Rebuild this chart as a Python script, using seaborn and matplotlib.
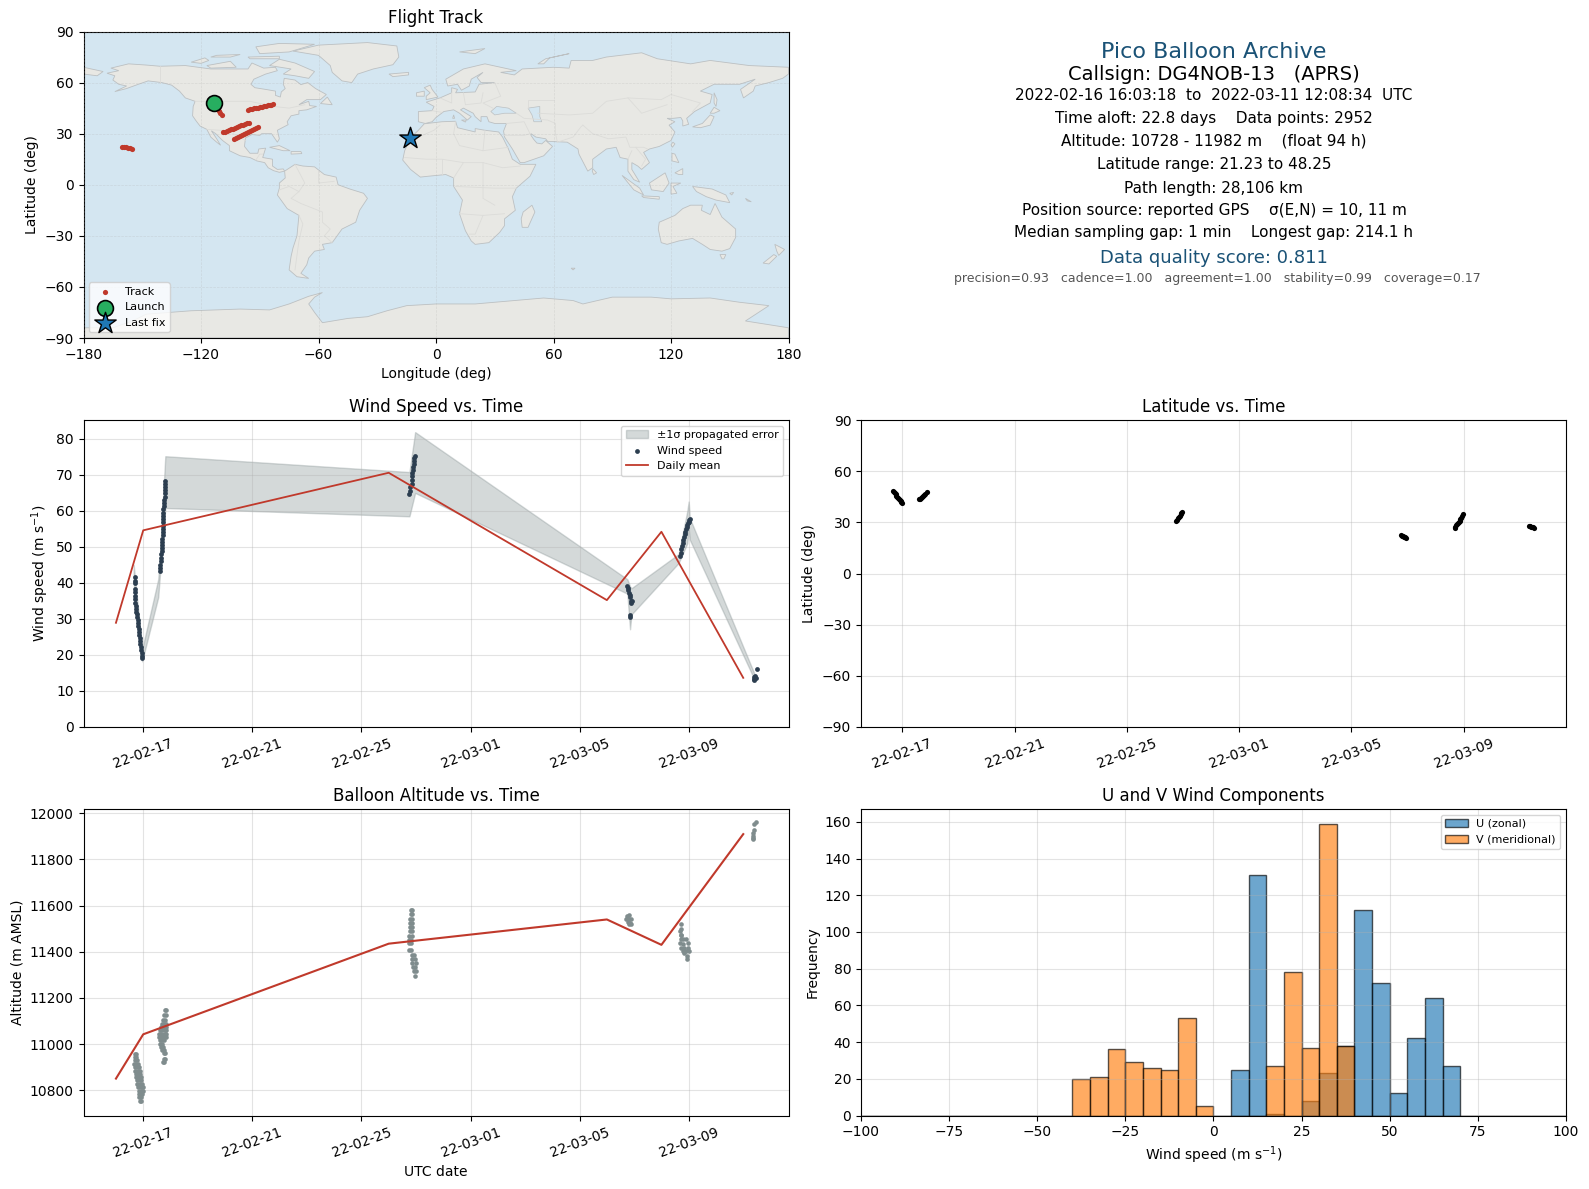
import numpy as np
import pandas as pd
import matplotlib
matplotlib.use("Agg")
import matplotlib.pyplot as plt
import matplotlib.dates as mdates
import seaborn as sns

# ----------- Map outlines (lon, lat) -----------
north_america = [(-168,65.5),(-162,67),(-166,68.5),(-157,71),(-148,70.3),(-141,69.6),(-128,70),(-115,68),(-108,68),(-96,68),(-94,71.5),(-88,68.5),(-82,69),(-81,67),(-87,65),(-93,62),(-94.5,59),(-92.5,57),(-87,56),(-82,55),(-82,52.5),(-79.5,51.5),(-79,54.5),(-77,56.5),(-78,59),(-77.5,62.5),(-72,61.5),(-69,58.8),(-65.5,60),(-61.5,56.5),(-56,53),(-59,50),(-66,50),(-70,47),(-65,49),(-64.5,46.5),(-61,46),(-66,44),(-70,43.5),(-70,41.5),(-74,40.5),(-76,37),(-75.5,35.3),(-81,32),(-80,27),(-81,25),(-82.8,28),(-84,30),(-89,30),(-90,29),(-94,29.5),(-97.3,27.5),(-97.8,22.5),(-95,18.5),(-91,18.5),(-90.5,21),(-87,21.5),(-88.5,16),(-83.5,15),(-83.5,11),(-81,9),(-78,9.3),(-77.3,8),(-80,7.3),(-83,8.3),(-85.7,10),(-87.5,13),(-91.5,14),(-95,16),(-100,17),(-105.5,20),(-105.5,23),(-109,26),(-112.5,30),(-114.7,31.7),(-112,27),(-110,23.2),(-112,25),(-115,28),(-117,32.5),(-120.5,34.5),(-122.5,37.5),(-124.3,40.5),(-124,46),(-123,49),(-128,51),(-131,55),(-135,58.5),(-140,60),(-147,61),(-152,59),(-158,56.5),(-164,54.7),(-158,58),(-162,59),(-165,61.5),(-164,64)]
greenland = [(-73,78.5),(-60,82),(-35,83.5),(-20,81.5),(-19,75),(-22,70.5),(-32,68),(-40,65),(-43,60),(-48,61),(-53,66),(-54,70),(-60,76)]
south_america = [(-77.3,8),(-72,12),(-68,11),(-62,10.5),(-57,6),(-51,4.5),(-50,0),(-44,-2.5),(-37,-5),(-35,-8),(-39,-15),(-41,-22),(-48,-26),(-53,-34),(-58,-35),(-57,-38),(-62,-39),(-65,-43),(-66,-47),(-69,-52),(-65,-55),(-71,-54),(-75,-50),(-74,-42),(-73,-37),(-71,-30),(-70,-18),(-76,-14),(-81,-6),(-80,-2),(-80,1),(-77,4)]
africa = [(-6,35.8),(3,37),(10,37.3),(11,33.5),(20,31),(20,33),(25,32),(32,31),(34,28),(37,21),(39,15),(43,12),(51,12),(48,5),(41,-2),(39,-7),(40.5,-15),(35,-20),(35,-24),(32.5,-28),(27,-34),(20,-35),(18,-33),(15,-27),(12,-17),(13.5,-9),(9,-1),(9,4),(5,6),(-4,5),(-8,4.5),(-13,9),(-17,14.5),(-16,20),(-13,27.5),(-9,32)]
eurasia = [(-9,37),(-9,43),(-2,43.5),(-1,46),(-5,48.5),(2,51),(8,54),(8,57),(11,56),(10,54),(20,54.5),(22,59),(30,60),(23,60),(21,63),(24,66),(18,62),(17,58),(13,55.5),(11,59),(6,58),(5,62),(14,68),(25,71),(41,67),(33,66),(40,64.5),(44,68),(60,69),(68,68.5),(69,73),(80,73),(87,75),(105,77.5),(113,74),(130,71),(140,73),(160,70),(180,69),(180,65),(177,62.5),(170,60),(163,58),(162,55),(157,51),(155.5,56),(163,62),(155,59),(142,59),(135,55),(141,53),(140,48),(132,43),(128,39),(129,35.5),(126,34.5),(126,37.5),(125,39.5),(121,39),(118,39),(122,37),(119,35),(122,31),(120,26),(114,22.5),(109,21),(106,19),(109,13),(105,9),(103,11),(100,13),(100,9),(104,1.5),(101,3),(98,8),(98,15),(94,16),(92,22),(87,21),(80,15),(80,10),(77.5,8),(73,18),(72.5,21),(67,25),(57,25.5),(56,27),(51,28),(48.5,30),(48.5,29),(50,26.5),(51.5,24.5),(54,24),(56,26),(59.5,22.5),(55,17),(45,13),(43,13),(39,21),(35,28),(34.5,31.5),(36,36),(30,36),(27,37),(26,40),(23,40),(23,37),(20,40),(19,42),(14,45),(12.5,44),(18,40),(16,38),(12,42),(9,44),(4,43),(0,39.5),(-2,37),(-5.5,36)]
australia = [(114,-22),(122,-18),(126,-14),(130,-12),(136,-12),(135.5,-15),(140,-17.5),(142.5,-11),(146,-19),(153,-26),(153,-31),(150,-37.5),(146,-39),(140,-38),(136,-35),(131,-31.5),(124,-33),(118,-35),(115,-34),(113.5,-26)]
antarctica = [(-180,-84),(-165,-84),(-155,-80),(-148,-76),(-125,-74),(-100,-73),(-85,-73.5),(-75,-70),(-65,-65.5),(-58,-63.3),(-62,-66),(-65,-70),(-62,-75),(-58,-81),(-45,-78.5),(-35,-77.5),(-25,-74),(-15,-71),(0,-70),(20,-70),(40,-68),(55,-66.5),(70,-68),(75,-70),(90,-66),(110,-66),(120,-67),(140,-66.5),(155,-69),(170,-71),(158,-80),(180,-84),(180,-90),(-180,-90)]
islands = [
    [(-180,69),(-170,66.5),(-173,64),(-180,65)],
    [(-80,73.7),(-72,71.5),(-62,66.5),(-65,62.5),(-72,64),(-78,65),(-74,68),(-85,70)],
    [(-117,70),(-105,72.5),(-102,69),(-115,68.5)],
    [(-90,77),(-75,78),(-62,82.5),(-80,83),(-92,81)],
    [(-125,72),(-118,74.5),(-116,73),(-120,71.3)],
    [(-96,75),(-80,75.5),(-80,74),(-95,74)],
    [(-112,76),(-100,76.5),(-105,75),(-115,75)],
    [(-59,47.7),(-53,47),(-55.5,51.5)],
    [(-85,22),(-80,23),(-74.5,20),(-78,20)],
    [(-74,19.5),(-69,19.5),(-68.5,18.3),(-74,18)],
    [(-5,50),(1,51.5),(-2,56),(-3,58.5),(-6,57),(-3,54),(-5,52)],
    [(-10,52),(-6,52),(-6,55),(-10,54)],
    [(-24,65),(-14,66),(-14,64.5),(-22,63.5)],
    [(12,78),(25,80),(20,77)],
    [(52,71),(56,74),(68,77),(58,74.5),(55,71)],
    [(131,34),(136,36),(140,41),(142,40),(140,35),(135,33.5)],
    [(140,42),(142,45.5),(145,43.5),(142,42)],
    [(142,54),(143.5,50),(143,46),(142,48)],
    [(121,25),(122,24),(120.7,22),(120,23.5)],
    [(120.5,18.5),(122,18),(124,13),(120.5,14)],
    [(122,7),(126,9.5),(126,6),(124,6)],
    [(95,5.5),(104,-2),(106,-6),(101,-3)],
    [(105,-6.5),(114,-7),(114,-8.5),(106,-7.5)],
    [(109,1),(117,7),(119,1),(116,-4),(110,-3)],
    [(120,1),(125,1),(121,-1),(123,-5),(120,-5.5)],
    [(131,-1),(141,-2.5),(148,-6),(150,-10.5),(143,-9),(138,-7),(133,-4)],
    [(80,9.5),(82,7),(80.5,6),(79.8,8)],
    [(49,-12),(50.5,-16),(47,-25),(44,-25),(43.5,-20),(44.5,-16)],
    [(145,-41),(148,-41),(147,-43.5),(146,-43.5)],
    [(173,-35),(178,-38),(175,-41.5),(174,-39)],
    [(172.5,-41),(174,-42),(170,-46.5),(167,-46)],
    [(69,-49),(71,-49),(70,-50)],
    [(9,41),(9.5,39),(8.5,39)],
    [(13,38),(15.5,38),(15,36.8)],
    [(150,-5),(152,-4.5),(151,-6)],
    [(158,-8),(161,-10),(159,-9.5)],
]
inland_water = [
    [(28,43),(31,46),(37,45),(41,42),(35,42),(30,41)],
    [(47,45),(53,46),(53,40),(54,37),(50,37),(49,41)],
]
borders = [
    [(-123,49),(-95,49),(-83,46),(-75,45),(-67,47)], [(-141,60),(-141,69.6)],
    [(-117,32.5),(-106,31.7),(-97.3,26)], [(-92,14.5),(-90,18),(-88.5,18)],
    [(-72,12),(-67,1),(-70,-4),(-74,-8),(-69,-11),(-58,-16),(-58,-22),(-54,-26),(-57,-30),(-53,-34)],
    [(-80,-3),(-75,-1),(-70,-4)], [(-70,-18),(-68,-23),(-70,-33),(-72,-50)],
    [(-60,8),(-60,1),(-52,2)],
    [(-9,28),(-1,32),(2,35)], [(10,37),(9,30),(12,23),(24,20),(25,32)], [(24,20),(37,22)],
    [(-16,16),(-5,15),(3,15),(14,13),(24,13),(34,10),(43,11)], [(3,15),(3,6)], [(14,13),(9,4)],
    [(10,-1),(30,-2),(41,-2)], [(12,-17),(24,-18),(35,-17)], [(24,-18),(20,-29),(17,-29)],
    [(24,13),(24,-8),(30,-12)],
    [(-2,43.5),(3,42.5)], [(2,51),(8,48),(8,54)], [(14,54),(15,47),(23,48),(24,54)], [(30,60),(33,52),(24,48),(29,45)],
    [(41,42),(45,39),(57,38),(61,36),(61,30),(62,25)], [(36,36),(45,37),(48,30)], [(34.5,29),(45,29),(48,30)],
    [(52,42),(68,41),(80,42),(87,49),(98,51),(115,50),(120,53),(135,48),(131,43)],
    [(60,50),(47,50),(47,45)], [(75,35),(80,30),(88,27),(97,28),(99,22),(106,22),(108,21)],
    [(62,25),(70,28),(74,34),(75,35)], [(98,51),(105,42),(118,47)],
    [(100,20),(98,15)], [(102,22),(107,15),(105,11)],
]

# ----------- Track (lon, lat) -----------
track_lon = [-113.0,-112.3,-111.6,-110.9,-110.2,-109.4,-96.1,-95.0,-94.0,-93.0,-92.0,-91.0,-90.0,-89.0,-88.0,-87.0,-86.0,-85.0,-84.2,-83.4,-108.6,-107.6,-106.5,-105.5,-104.5,-103.5,-102.5,-101.5,-100.5,-99.5,-98.5,-97.5,-96.4,-95.3,-103.0,-102.0,-101.0,-100.0,-99.0,-98.0,-97.0,-96.0,-95.0,-94.0,-93.0,-92.0,-91.0,-160.3,-159.3,-158.3,-157.3,-156.3,-155.4]
track_lat = [47.5,46.0,44.6,43.2,42.0,41.0,44.0,44.3,44.6,44.8,45.1,45.3,45.6,45.8,46.1,46.3,46.6,46.8,47.1,47.3,30.7,31.2,31.6,32.1,32.5,33.0,33.4,33.9,34.4,34.8,35.2,35.7,36.1,36.5,26.8,27.4,28.0,28.6,29.2,29.8,30.4,31.0,31.6,32.2,32.9,33.6,34.2,22.3,22.1,21.9,21.6,21.4,21.0]
launch_lon, launch_lat = [-113.2], [48.0]
last_lon, last_lat = [-13.3], [27.4]

# ----------- Time series (days after 2022-02-17 00:00) -----------
wind_day = [-0.32,-0.32,-0.31,-0.30,-0.29,-0.29,-0.29,-0.29,-0.28,-0.28,-0.26,-0.24,-0.23,-0.21,-0.19,-0.18,-0.17,-0.16,-0.15,-0.13,-0.12,-0.11,-0.09,-0.08,-0.06,-0.05,-0.04,
            0.61,0.62,0.63,0.64,0.65,0.66,0.67,0.68,0.69,0.70,0.70,0.71,0.71,0.71,0.72,0.72,0.72,0.73,0.73,0.74,0.75,0.76,0.77,0.78,0.79,0.80,0.81,0.81,0.81,
            9.76,9.77,9.79,9.84,9.85,9.86,9.87,9.89,9.90,9.92,9.93,9.94,9.95,
            17.75,17.77,17.79,17.81,17.83,17.84,17.88,17.90,17.92,17.84,17.86,
            19.67,19.70,19.73,19.75,19.78,19.80,19.83,19.85,19.88,19.90,19.93,19.95,19.98,20.00,20.02,20.04,
            22.38,22.40,22.41,22.43,22.45,22.51]
wind_speed = [41.5,40.6,39.9,38.2,37.4,36.3,35.4,34.5,33.6,32.8,32.0,31.3,30.5,29.7,28.9,28.0,27.2,26.4,25.5,24.7,23.9,23.0,22.2,21.4,20.6,19.8,19.0,
              43.3,44.2,45.1,46.0,47.0,47.9,48.8,49.6,50.5,51.4,52.3,53.2,54.1,55.0,55.9,56.8,57.7,58.6,59.5,60.4,61.3,62.2,63.1,64.0,64.9,65.8,66.6,67.4,68.2,
              64.6,65.6,66.6,67.6,68.6,69.6,70.6,71.4,72.2,73.0,73.8,74.6,75.2,
              39.1,38.5,37.9,37.3,36.7,36.1,34.9,34.4,34.9,30.4,31.0,
              47.4,48.4,49.3,50.2,51.0,51.9,52.7,53.5,54.2,54.9,55.5,56.0,56.5,57.0,57.4,57.7,
              13.0,13.4,13.8,14.2,13.5,16.0]

band_day = [-0.35,-0.04,0.55,0.61,0.81,9.76,9.97,17.75,17.85,17.90,19.63,19.95,20.00,20.04,22.45]
band_low = [40.0,18.2,36.0,42.0,60.8,58.5,65.0,37.0,27.1,31.2,45.5,51.0,55.0,52.0,12.5]
band_high = [45.0,21.5,41.0,47.0,75.2,70.8,81.9,41.0,39.0,38.5,48.0,60.0,62.6,58.0,14.0]

mean_dates = ["2022-02-16","2022-02-17","2022-02-26","2022-03-06","2022-03-08","2022-03-11"]
mean_speed = [28.9,54.6,70.6,35.2,54.2,13.6]
mean_alt = [10850,11042,11435,11540,11430,11910]

alt_day = [-0.29,-0.27,-0.32,-0.255,-0.305,-0.23,-0.33,-0.255,-0.18,-0.305,-0.22,-0.16,-0.29,-0.205,-0.135,-0.28,-0.195,-0.12,-0.255,-0.17,-0.095,-0.245,-0.145,-0.07,-0.22,-0.135,-0.05,-0.18,-0.095,-0.025,-0.16,-0.07,-0.01,-0.16,-0.085,-0.035,-0.16,-0.095,-0.135,-0.095,
           0.796,0.833,0.772,0.82,0.723,0.796,0.70,0.772,0.833,0.65,0.735,0.82,0.60,0.686,0.784,0.845,0.576,0.66,0.747,0.82,0.576,0.66,0.747,0.82,0.60,0.674,0.76,0.613,0.70,0.65,0.723,0.70,0.772,0.747,0.796,0.747,0.796,0.723,0.76,
           9.81,9.85,9.80,9.86,9.79,9.85,9.79,9.86,9.775,9.85,9.775,9.85,9.76,9.84,9.76,9.82,9.75,9.80,9.75,9.82,9.85,9.91,9.85,9.97,9.87,10.0,9.88,9.97,9.92,10.0,9.97,
           17.73,17.82,17.70,17.80,17.89,17.76,17.86,17.90,17.82,
           19.70,19.70,19.68,19.70,19.73,19.70,19.78,19.68,19.78,19.90,19.97,19.73,19.84,19.97,19.78,19.90,20.00,19.84,19.94,19.94,
           22.45,22.41,22.39,22.37,22.35,22.37,22.35]
alt = [10958,10958,10943,10943,10929,10929,10914,10914,10914,10900,10900,10900,10885,10885,10885,10871,10871,10871,10856,10856,10856,10842,10842,10842,10827,10827,10827,10813,10813,10813,10798,10798,10798,10784,10784,10784,10770,10770,10755,10755,
       11146,11146,11125,11125,11103,11103,11088,11088,11088,11074,11074,11074,11059,11059,11059,11059,11045,11045,11045,11045,11030,11030,11030,11030,11016,11016,11016,11001,11001,10987,10987,10972,10972,10961,10961,10933,10933,10922,10922,
       11581,11581,11562,11562,11543,11543,11526,11526,11508,11508,11489,11489,11470,11470,11453,11453,11439,11439,11407,11407,11388,11388,11369,11369,11352,11352,11333,11333,11315,11315,11297,
       11555,11558,11544,11544,11541,11529,11526,11519,11519,
       11519,11500,11490,11471,11471,11454,11454,11439,11432,11454,11439,11418,11418,11418,11403,11403,11403,11396,11381,11367,
       11964,11952,11929,11915,11900,11889,11895]

lat_day = [-0.33,-0.30,-0.27,-0.24,-0.21,-0.18,-0.15,-0.12,-0.09,-0.06,-0.03,0.00,
           0.59,0.62,0.66,0.70,0.74,0.78,0.82,0.87,
           9.76,9.79,9.82,9.85,9.88,9.91,9.94,9.97,
           17.77,17.80,17.84,17.87,17.90,17.93,
           19.67,19.70,19.73,19.76,19.79,19.82,19.85,19.88,19.91,19.94,19.98,
           22.33,22.37,22.41,22.45,22.49]
lat_val = [48.4,47.7,47.1,46.4,45.8,45.1,44.5,43.9,43.2,42.6,41.9,41.3,
           43.5,44.0,44.6,45.2,45.8,46.3,46.9,47.6,
           30.8,31.6,32.4,33.2,34.0,34.8,35.6,36.4,
           22.6,22.3,22.0,21.7,21.3,21.0,
           26.9,27.6,28.3,29.0,29.7,30.4,31.1,31.8,32.6,33.5,34.7,
           28.0,27.8,27.5,27.2,26.9]

# ----------- Histogram counts (5 m/s bins) -----------
hist_edges = list(range(-100, 105, 5))
u_centers = [7.5,12.5,17.5,27.5,32.5,37.5,42.5,47.5,52.5,57.5,62.5,67.5]
u_counts = [25,131,1,8,23,38,112,72,12,42,64,27]
v_centers = [-37.5,-32.5,-27.5,-22.5,-17.5,-12.5,-7.5,-2.5,17.5,22.5,27.5,32.5,37.5]
v_counts = [20,21,36,29,26,25,53,5,27,78,37,159,38]

# ----------- Tick labels -----------
tick_dates = pd.to_datetime(["2022-02-17","2022-02-21","2022-02-25","2022-03-01","2022-03-05","2022-03-09"])

summary_lines = [
    "2022-02-16 16:03:18  to  2022-03-11 12:08:34  UTC",
    "Time aloft: 22.8 days    Data points: 2952",
    "Altitude: 10728 - 11982 m    (float 94 h)",
    "Latitude range: 21.23 to 48.25",
    "Path length: 28,106 km",
    "Position source: reported GPS    \u03c3(E,N) = 10, 11 m",
    "Median sampling gap: 1 min    Longest gap: 214.1 h",
]
summary_y = [95, 118, 141, 164, 188, 210, 233]

RED = "#c0392b"
NAVY = "#2c3e50"
GREY = "#7f8c8d"
TEAL = "#1a5276"
W, H = 1589, 1189


def to_time(days):
    return pd.Timestamp("2022-02-17") + pd.to_timedelta(days, unit="D")


def date_axis(ax, xlim):
    ax.set_xlim(to_time(xlim[0]), to_time(xlim[1]))
    ax.set_xticks(tick_dates)
    ax.xaxis.set_major_formatter(mdates.DateFormatter("%y-%m-%d"))
    ax.tick_params(axis="x", rotation=20)
    ax.grid(True, alpha=0.35)
    ax.set_xlabel("")


fig, axes = plt.subplots(3, 2, figsize=(W / 100, H / 100), dpi=100)
fig.subplots_adjust(left=83.5 / W, right=1566 / W, top=1 - 31.5 / H, bottom=1 - 1115.5 / H,
                    wspace=0.1028, hspace=0.2683)

# ----------- Flight track map -----------
ax = axes[0, 0]
ax.set_facecolor("#d4e6f1")
for poly in [north_america, greenland, south_america, africa, eurasia, australia, antarctica] + islands:
    xs, ys = zip(*poly)
    ax.fill(xs, ys, facecolor="#e8e8e4", edgecolor="#bcc0c2", linewidth=0.6, zorder=1)
for poly in inland_water:
    xs, ys = zip(*poly)
    ax.fill(xs, ys, facecolor="#d4e6f1", edgecolor="#bcc0c2", linewidth=0.5, zorder=1.1)
for line in borders:
    xs, ys = zip(*line)
    ax.plot(xs, ys, color="#dcdcd9", linewidth=0.6, zorder=1.2)
sns.scatterplot(x=track_lon, y=track_lat, color=RED, s=14, linewidth=0, label="Track", ax=ax, zorder=3)
sns.scatterplot(x=launch_lon, y=launch_lat, color="#27ae60", marker="o", s=130, edgecolor="black",
                linewidth=1.2, label="Launch", ax=ax, zorder=4)
sns.scatterplot(x=last_lon, y=last_lat, color="#1f77b4", marker="*", s=260, edgecolor="black",
                linewidth=1.0, label="Last fix", ax=ax, zorder=4)
ax.set_xlim(-180, 180)
ax.set_ylim(-90, 90)
ax.set_xticks(range(-180, 181, 60))
ax.set_yticks(range(-90, 91, 30))
ax.set_xlabel("Longitude (deg)")
ax.set_ylabel("Latitude (deg)")
ax.set_title("Flight Track", fontsize=12)
ax.grid(True, linestyle="--", linewidth=0.5, alpha=0.3, zorder=2)
ax.set_axisbelow(False)
ax.legend(loc="lower left", fontsize=8, framealpha=0.8)

# ----------- Summary text -----------
ax = axes[0, 1]
ax.axis("off")
cx = 1214 / W
fig.text(cx, 1 - 52 / H, "Pico Balloon Archive", ha="center", va="center", fontsize=16, color=TEAL)
fig.text(cx, 1 - 75 / H, "Callsign: DG4NOB-13   (APRS)", ha="center", va="center", fontsize=14, color="black")
for line, py in zip(summary_lines, summary_y):
    fig.text(cx, 1 - py / H, line, ha="center", va="center", fontsize=11, color="black")
fig.text(cx, 1 - 258 / H, "Data quality score: 0.811", ha="center", va="center", fontsize=13, color=TEAL)
fig.text(cx + 3 / W, 1 - 279 / H, "precision=0.93   cadence=1.00   agreement=1.00   stability=0.99   coverage=0.17",
         ha="center", va="center", fontsize=9, color="#555555")

# ----------- Wind speed vs time -----------
ax = axes[1, 0]
ax.fill_between(to_time(band_day), band_low, band_high, color=GREY, alpha=0.33, label="\u00b11\u03c3 propagated error")
sns.scatterplot(x=to_time(wind_day), y=wind_speed, color=NAVY, s=12, linewidth=0, label="Wind speed", ax=ax, zorder=3)
sns.lineplot(x=pd.to_datetime(mean_dates), y=mean_speed, color=RED, linewidth=1.3, label="Daily mean", ax=ax, zorder=4)
date_axis(ax, (-2.19, 23.66))
ax.set_ylim(0, 85.2)
ax.set_ylabel("Wind speed (m s$^{-1}$)")
ax.set_title("Wind Speed vs. Time", fontsize=12)
ax.legend(loc="upper right", fontsize=8)

# ----------- Latitude vs time -----------
ax = axes[1, 1]
sns.scatterplot(x=to_time(lat_day), y=lat_val, color="black", s=14, linewidth=0, ax=ax, zorder=3)
date_axis(ax, (-1.47, 23.64))
ax.set_ylim(-90, 90)
ax.set_yticks(range(-90, 91, 30))
ax.set_ylabel("Latitude (deg)")
ax.set_title("Latitude vs. Time", fontsize=12)

# ----------- Altitude vs time -----------
ax = axes[2, 0]
sns.scatterplot(x=to_time(alt_day), y=alt, color=GREY, s=11, linewidth=0, ax=ax, zorder=3)
sns.lineplot(x=pd.to_datetime(mean_dates), y=mean_alt, color=RED, linewidth=1.5, ax=ax, zorder=4)
date_axis(ax, (-2.19, 23.66))
ax.set_ylim(10690, 12019)
ax.set_xlabel("UTC date")
ax.set_ylabel("Altitude (m AMSL)")
ax.set_title("Balloon Altitude vs. Time", fontsize=12)

# ----------- U and V histogram -----------
ax = axes[2, 1]
sns.histplot(x=u_centers, weights=u_counts, bins=hist_edges, color="#1f77b4", alpha=0.65,
             edgecolor=(0, 0, 0, 0.65), linewidth=1, label="U (zonal)", ax=ax)
sns.histplot(x=v_centers, weights=v_counts, bins=hist_edges, color="#ff7f0e", alpha=0.65,
             edgecolor=(0, 0, 0, 0.65), linewidth=1, label="V (meridional)", ax=ax)
ax.set_xlim(-100, 100)
ax.set_ylim(0, 167)
ax.set_yticks(range(0, 161, 20))
ax.set_xlabel("Wind speed (m s$^{-1}$)")
ax.set_ylabel("Frequency")
ax.set_title("U and V Wind Components", fontsize=12)
ax.grid(True, alpha=0.35)
ax.legend(loc="upper right", fontsize=8)

fig.savefig("out.png", dpi=100)
